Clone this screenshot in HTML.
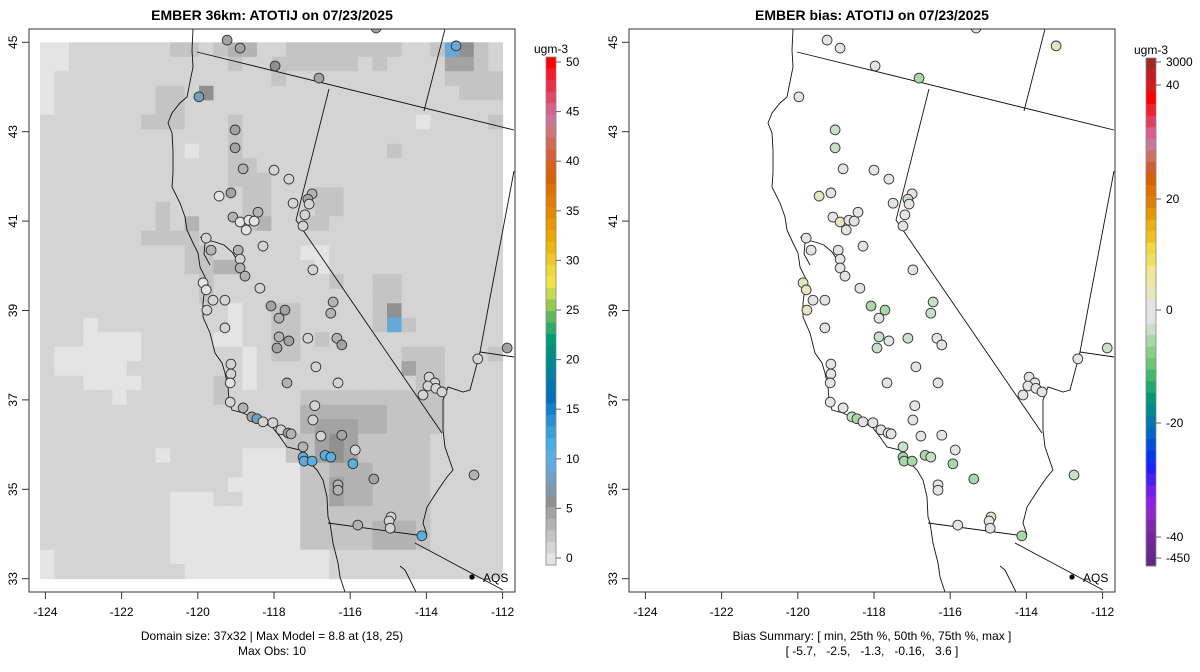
<!DOCTYPE html>
<html><head><meta charset="utf-8">
<style>
html,body{margin:0;padding:0;background:#fff;}
svg{display:block;font-family:"Liberation Sans",Arial,sans-serif;}
</style></head>
<body>
<svg id="chart" width="1200" height="672" viewBox="0 0 1200 672" xmlns="http://www.w3.org/2000/svg">
<defs>
<clipPath id="clipL"><rect x="29" y="29" width="486" height="563"/></clipPath>
</defs>
<text x="272" y="20" text-anchor="middle" font-size="14" font-weight="bold">EMBER 36km: ATOTIJ on 07/23/2025</text>
<text x="872" y="20" text-anchor="middle" font-size="14" font-weight="bold">EMBER bias: ATOTIJ on 07/23/2025</text>
<g id="panelL"></g>
<g id="panelR" transform="translate(600,0)"></g>
<g id="cbarL"></g>
<g id="cbarR"></g>
<text x="272" y="640" text-anchor="middle" font-size="12">Domain size: 37x32 | Max Model = 8.8 at (18, 25)</text>
<text x="272" y="655" text-anchor="middle" font-size="12">Max Obs: 10</text>
<text x="872" y="640" text-anchor="middle" font-size="12">Bias Summary: [ min, 25th %, 50th %, 75th %, max ]</text>
<text x="872" y="655" text-anchor="middle" font-size="12" xml:space="preserve">[ -5.7,   -2.5,   -1.3,   -0.16,   3.6 ]</text>
</svg>
<script>
// ---- data ----
const xTicks = [-124,-122,-120,-118,-116,-114,-112];
const yTicks = [33,35,37,39,41,43,45];
const gridRows = 37, gridCols = 32, gridBase = 1.2;
// patches: [rowStart,rowEnd,colStart,colEnd,value]
const gridPatches = [
[0,1,0,1,0.2],[2,4,0,0,0.2],
[0,0,9,10,2.2],[0,0,12,12,2.2],[0,0,13,14,3.2],[1,1,13,13,2.2],[1,2,16,16,2.2],
[0,0,17,24,2.2],[1,1,17,21,2.2],[1,1,23,23,2.2],
[0,0,27,27,2.2],[0,0,28,28,8.8],[0,0,29,29,6],[0,1,30,30,2.2],[1,1,28,29,4.2],[2,2,28,31,2.2],[3,3,29,31,2.2],
[5,5,26,26,0.2],[5,5,31,31,2.2],[7,7,24,24,2.2],
[3,4,8,9,2.2],[5,5,7,9,2.2],[3,3,11,11,6],[7,7,10,10,0.2],
[5,9,13,13,2.2],[8,9,14,14,2.2],[9,12,14,15,2.2],[11,12,8,8,2.2],[13,13,7,10,2.2],[12,12,10,10,3.2],[12,12,15,15,3.2],
[14,15,10,11,2.2],[15,15,12,13,3.2],[16,17,11,11,2.2],
[10,11,19,20,2.2],[12,12,18,19,2.2],[14,14,18,19,0.2],[15,15,19,19,0.2],[16,16,20,20,2.2],[16,17,23,24,2.2],[17,17,24,24,3.2],
[18,19,13,13,0.2],[20,20,12,13,0.2],[21,23,14,14,0.2],[23,24,12,12,2.2],
[19,19,3,3,0.2],[20,20,3,6,0.2],[21,21,1,6,0.2],[22,22,1,5,0.2],[23,23,3,6,0.2],[24,24,5,5,0.2],
[28,28,8,8,0.2],
[18,21,16,17,2.2],[20,20,19,19,2.2],
[17,19,23,24,2.2],[18,18,24,24,6],[19,19,24,24,8.8],[19,19,25,25,2.2],
[21,22,25,27,2.2],[22,22,25,25,4.2],[22,24,26,27,2.2],[25,26,27,27,2.2],[21,21,31,31,2.2],
[24,34,18,26,2.2],[27,29,17,18,2.2],
[25,26,18,23,3.2],[26,28,19,21,4.2],[27,29,20,20,6],[29,31,20,22,3.2],[30,31,20,20,4.2],[32,34,19,26,2.2],[33,34,23,25,3.2],
[28,36,14,15,0.2],[28,36,16,16,0.2],[29,34,17,17,0.2],[35,36,16,19,0.2],
[30,30,13,13,0.2],[31,35,9,15,0.2],[31,31,12,13,1.2],[36,36,10,15,0.2],[35,36,0,0,0.2]
];
const stLon = [-119.23,-118.89,-117.97,-116.82,-115.32,-113.22,-119.97,-119.02,-119.02,-118.81,-118.00,-117.61,-119.13,-119.44,-117.50,-119.08,-118.89,-118.66,-118.52,-118.73,-118.42,-118.29,-117.00,-117.11,-117.08,-117.19,-117.24,-116.98,-119.78,-119.65,-118.94,-118.89,-118.89,-118.76,-118.37,-119.86,-119.78,-119.60,-119.76,-119.29,-119.29,-118.08,-117.71,-117.87,-117.87,-117.92,-117.61,-117.11,-116.45,-116.51,-116.35,-116.22,-116.90,-119.13,-119.13,-119.15,-119.15,-118.81,-118.58,-118.45,-118.29,-118.03,-117.82,-117.63,-117.55,-117.66,-116.32,-116.93,-116.98,-116.77,-117.24,-117.24,-117.21,-117.00,-116.66,-116.51,-116.22,-115.87,-115.93,-116.32,-116.32,-115.38,-115.80,-114.93,-114.98,-114.95,-114.12,-113.93,-113.78,-113.96,-113.75,-114.09,-113.59,-112.65,-111.88,-112.75];
const stLat = [45.05,44.87,44.47,44.20,45.32,44.92,43.78,43.04,42.64,42.17,42.14,41.94,41.63,41.56,41.40,41.09,40.98,41.02,41.00,40.80,41.20,40.44,41.61,41.49,41.38,41.14,40.89,39.91,40.62,40.35,40.35,40.15,39.95,39.77,39.50,39.62,39.46,39.23,39.01,39.23,38.61,39.10,39.01,38.83,38.41,38.16,38.32,38.38,39.19,38.94,38.38,38.23,37.74,37.80,37.58,37.38,36.95,36.82,36.62,36.58,36.51,36.49,36.33,36.26,36.24,37.38,37.38,36.87,36.55,36.19,35.95,35.72,35.63,35.63,35.76,35.72,36.21,35.88,35.57,35.10,34.98,35.23,34.20,34.38,34.29,34.13,33.96,37.51,37.38,37.31,37.26,37.11,37.18,37.92,38.16,35.32];
const stObs = [4.5,4.5,6,4.5,4.5,9,7.5,4.5,4.5,3.2,1.2,1.2,4.5,0,1.2,3.2,0,0,0,0,3.2,1.2,3.2,4.5,1.2,1.2,1.2,1.2,1.2,3.2,3.2,1.2,3.2,3.2,1.2,0,0,1.2,1.2,1.2,1.2,4.5,4.5,3.2,3.2,4.5,4.5,1.2,3.2,3.2,3.2,4.5,1.2,1.2,1.2,0,1.2,3.2,4.5,7.5,1.2,1.2,1.2,4.5,3.2,3.2,0.5,1.2,1.2,1.2,3.2,10,9,10,10,10,4.5,1.2,10,3.2,3.2,4.5,3.2,0.5,1.2,1.2,10,0.5,0.5,0.5,0.5,1.2,1.2,1.2,4.5,3.2];
const stBias = [-1,-1,-1,-4.5,-1,2.5,-1,-4.2,-4,-1,-1,-1,-1,2.8,-1,-1,2,-1,-1,-1,-1,-1,-1,-4,-1,-1,-1,-1,-1,-1,-1,-1,-1,-1,-1,3,3.6,-1,3,-1,-1,-4.5,-5,-1,-4.2,-4.2,-1,-4,-4.2,-4,-1,-1,-1,-1,-1,-1,-1,-1,-4,-4.5,-1,-1,-1,-1,-1,-1,-1,-1,-1,-1,-4.2,-4.5,-4.5,-4.5,-5,-4.2,-1,-1,-4.5,-1,-1,-4.5,-1,2.5,-1,-1,-5.7,-1,-1,-1,-1,-1,-1,-1,-4,-4.2];
const concTickVals = [0,5,10,15,20,25,30,35,40,45,50];
const biasTickVals = [3000,40,20,0,-20,-40,-450];
const biasTickLabels = ["3000","40","20","0","-20","-40","-450"];
const concColors = ["#ff0000","#f41c2c","#ea3048","#e04868","#d8608c","#cc74a0","#cc7878","#d06c58","#d46040","#d86018","#d86400","#dc7000","#e07c00","#e48800","#e89800","#eaa800","#ecb810","#eec828","#f0d838","#f0e448","#c8d850","#98c850","#60b860","#30a868","#009a78","#009080","#008890","#0080a0","#0074b0","#0070b8","#1080c8","#2890d0","#3aa0d8","#48aee0","#58b0e0","#68a8d8","#74a0c0","#8098a8","#909090","#a3a3a3","#b3b3b3","#c4c4c4","#d4d4d4","#e4e4e4"];
const biasColors = ["#a02828","#c02020","#d81818","#ff0000","#f02030","#e04060","#d86090","#c87898","#d07060","#d06030","#d86000","#e07000","#e08000","#e89800","#e8b010","#f0c020","#f0d840","#f0e060","#f0e890","#ece6a8","#e8e4c0","#e4e4e4","#e4e4e4","#c8e0c8","#a8d8a8","#88d088","#68c878","#40b870","#20a870","#009878","#008890","#0078a8","#0068c0","#0050d8","#0038f0","#2020ff","#4820f0","#7020e8","#9020e0","#9028c8","#8028b0","#742898","#6a2890","#602888"];

// ---- scales ----
const NS = "http://www.w3.org/2000/svg";
function xS(lon){ return 45.4 + (lon + 124) * 38.1; }
function yS(lat){ return 42.3 + (45 - lat) * 44.7; }
const box = {x0:29, y0:29, x1:515, y1:592};
const cellW = 462.7/gridCols, cellH = 536.4/gridRows, gx0 = 40, gy0 = 42.3;
const cbTop = 57, cbBot = 565;
function concY(v){ return 558 - v * 9.92; }
function concColor(v){ let i = Math.floor((concY(v) - cbTop) / ((cbBot - cbTop) / concColors.length)); i = Math.max(0, Math.min(concColors.length - 1, i)); return concColors[i]; }
const biasTickY = [62,85,199,310,423,537,558];
function biasY(v){
  for (let i = 0; i < biasTickVals.length - 1; i++) {
    const a = biasTickVals[i], b = biasTickVals[i+1];
    if (v <= a && v >= b) return biasTickY[i] + (a - v) / (a - b) * (biasTickY[i+1] - biasTickY[i]);
  }
  return v > 0 ? biasTickY[0] : biasTickY[biasTickY.length - 1];
}
function biasColor(v){ let i = Math.floor((biasY(v) - 58) / (508 / biasColors.length)); i = Math.max(0, Math.min(biasColors.length - 1, i)); return biasColors[i]; }

function mk(tag, attrs, parent){ const e = document.createElementNS(NS, tag); for (const k in attrs) e.setAttribute(k, attrs[k]); parent.appendChild(e); return e; }

const coast = "M193,29 L192,50 L193,67 L187,97 L180,103 L172,113 L168,123 L172,133 L173,150 L173,173 L172,187 L180,203 L185,217 L187,230 L193,243 L198,253 L200,267 L205,277 L208,285 L204,295 L203,303 L203,317 L210,333 L215,353 L222,363 L225,373 L228,387 L229,400 L232,410 L243,413 L253,418 L263,422 L273,428 L280,437 L287,447 L300,450 L307,460 L317,470 L323,480 L327,497 L328,517 L330,523 L333,543 L338,563 L340,577 L345,592 M200,237 L207,240 L215,242 L224,245 L232,252 L236,258 M205,243 L204,254 L210,265";
const borders = "M197,52 L514,130 M445,29 L424,111 M329,89 L296,220 L442,433 M514,171 L490,298 L480,352 L514,357 M480,352 L478,360 L470,390 L463,392 L448,387 L443,400 L443,430 L445,447 L453,470 L447,477 L438,490 L427,507 L423,523 L427,535 M328,523 L417,535 M415,543 L503,590 M400,566 L405,570 L410,580 L416,592";

function drawPanel(g, isBias){
  mk("rect",{x:box.x0,y:box.y0,width:box.x1-box.x0,height:box.y1-box.y0,fill:"#fff"},g);
  const inner = mk("g",{"clip-path":"url(#clipL)"},g);
  if (!isBias) {
    const grid = [];
    for (let r = 0; r < gridRows; r++){ grid.push(new Array(gridCols).fill(gridBase)); }
    gridPatches.forEach(p => { for (let r = p[0]; r <= p[1]; r++) for (let c = p[2]; c <= p[3]; c++) grid[r][c] = p[4]; });
    const cg = mk("g",{},inner);
    
    
    for (let r = 0; r < gridRows; r++) for (let c = 0; c < gridCols; c++) {
      const cell = mk("rect",{x:(gx0+c*cellW).toFixed(2),y:(gy0+r*cellH).toFixed(2),width:(cellW+0.4).toFixed(2),height:(cellH+0.4).toFixed(2),fill:concColor(grid[r][c])},cg);
      
      
    }
  }
  const cp = mk("path",{d:coast,fill:"none",stroke:"#111","stroke-width":"0.9"},inner);
  
  
  const bp = mk("path",{d:borders,fill:"none",stroke:"#111","stroke-width":"0.9"},inner);
  
  
  for (let i = 0; i < stLon.length; i++) {
    const c = mk("circle",{cx:xS(stLon[i]).toFixed(1),cy:yS(stLat[i]).toFixed(1),r:"4.9",fill:isBias?biasColor(stBias[i]):concColor(stObs[i]),stroke:"#333","stroke-width":"0.9"},inner);
    
    
  }
  const ad = mk("circle",{cx:472,cy:577,r:2.6,fill:"#000"},inner);
  
  
  const at = mk("text",{x:483,y:582,"font-size":"12"},inner); at.textContent = "AQS";
  
  
  const fr = mk("rect",{x:box.x0,y:box.y0,width:box.x1-box.x0,height:box.y1-box.y0,fill:"none",stroke:"#333","stroke-width":"1"},g);
  
  
  xTicks.forEach(t => {
    const x = xS(t);
    mk("line",{x1:x,x2:x,y1:box.y1,y2:box.y1+7,stroke:"#333"},g);
    const tx = mk("text",{x:x,y:616,"text-anchor":"middle","font-size":"12"},g); tx.textContent = String(t);
    
    
  });
  yTicks.forEach(t => {
    const y = yS(t);
    mk("line",{x1:box.x0,x2:box.x0-7,y1:y,y2:y,stroke:"#333"},g);
    const tx = mk("text",{x:0,y:0,"text-anchor":"middle","font-size":"12",transform:`translate(17,${y}) rotate(-90)`},g); tx.textContent = String(t);
    
    
  });
}
drawPanel(document.getElementById("panelL"), false);
drawPanel(document.getElementById("panelR"), true);

function drawBar(g, x0, top, bot, colors, tickYs, labels, titleX){
  const h = (bot - top) / colors.length;
  colors.forEach((c, i) => {
    const r = mk("rect",{x:x0,y:(top+i*h).toFixed(2),width:10,height:(h+0.4).toFixed(2),fill:c},g);
    
    
  });
  mk("rect",{x:x0,y:top,width:10,height:bot-top,fill:"none",stroke:"#888","stroke-width":"0.8"},g);
  tickYs.forEach((y, i) => {
    mk("line",{x1:x0+10,x2:x0+15,y1:y,y2:y,stroke:"#666"},g);
    const t = mk("text",{x:x0+20,y:y+4,"font-size":"12"},g); t.textContent = labels[i];
    
    
  });
  const tt = mk("text",{x:titleX,y:top-4,"text-anchor":"middle","font-size":"12"},g); tt.textContent = "ugm-3";
  
  
}
drawBar(document.getElementById("cbarL"), 546, cbTop, cbBot, concColors, concTickVals.map(concY), concTickVals.map(String), 551);
drawBar(document.getElementById("cbarR"), 1146, 58, 566, biasColors, biasTickVals.map(biasY), biasTickLabels, 1151);
</script>
</body></html>
